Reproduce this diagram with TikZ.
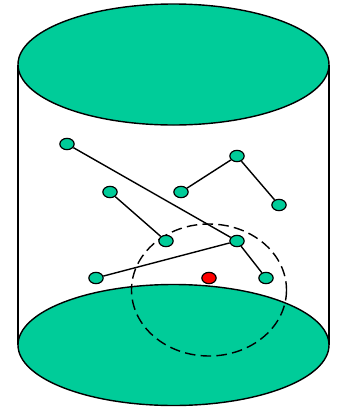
\documentclass[tikz,border=0pt]{standalone}
\usepackage{tikz}
\usetikzlibrary{shapes.geometric}
\usetikzlibrary{positioning}
\definecolor{cyl-green}{HTML}{00CC99}
\definecolor{hit-red}{HTML}{FF0000}

\begin{document}
\begin{tikzpicture}[x=0.03cm, y=-0.03cm, line width=1.2pt,
    particle/.style={ellipse, draw=black, line width=1pt, fill=cyl-green, minimum width=0.43cm, minimum height=0.34cm, inner sep=0pt},
    hit/.style={particle, fill=hit-red}]
    \useasboundingbox (0,0) rectangle (337,410);

    % Cylinder
    \draw[fill=cyl-green] (173.5,64.5) ellipse [x radius=155.5, y radius=60.5];
    \draw (18,64.5) -- (18,345);
    \draw (329,64.5) -- (329,345);
    \draw[fill=cyl-green] (173.5,345) ellipse [x radius=155.5, y radius=60.5];

    % Search region
    \draw[dash pattern=on 9pt off 4.5pt] (209,290) ellipse [x radius=77.5, y radius=66];

    % Particles
    \node[particle] (a) at (67,144) {};
    \node[particle] (b) at (237,156) {};
    \node[particle] (c) at (110,192) {};
    \node[particle] (d) at (181,192) {};
    \node[particle] (e) at (279,205) {};
    \node[particle] (f) at (166,241) {};
    \node[particle] (g) at (237,241) {};
    \node[particle] (h) at (96,278) {};
    \node[particle] (i) at (266,278) {};
    \node[hit] (q) at (209,278) {};

    % Links
    \draw (a) -- (g);
    \draw (b) -- (d);
    \draw (b) -- (e);
    \draw (c) -- (f);
    \draw (h) -- (g);
    \draw (g) -- (i);
\end{tikzpicture}
\end{document}
